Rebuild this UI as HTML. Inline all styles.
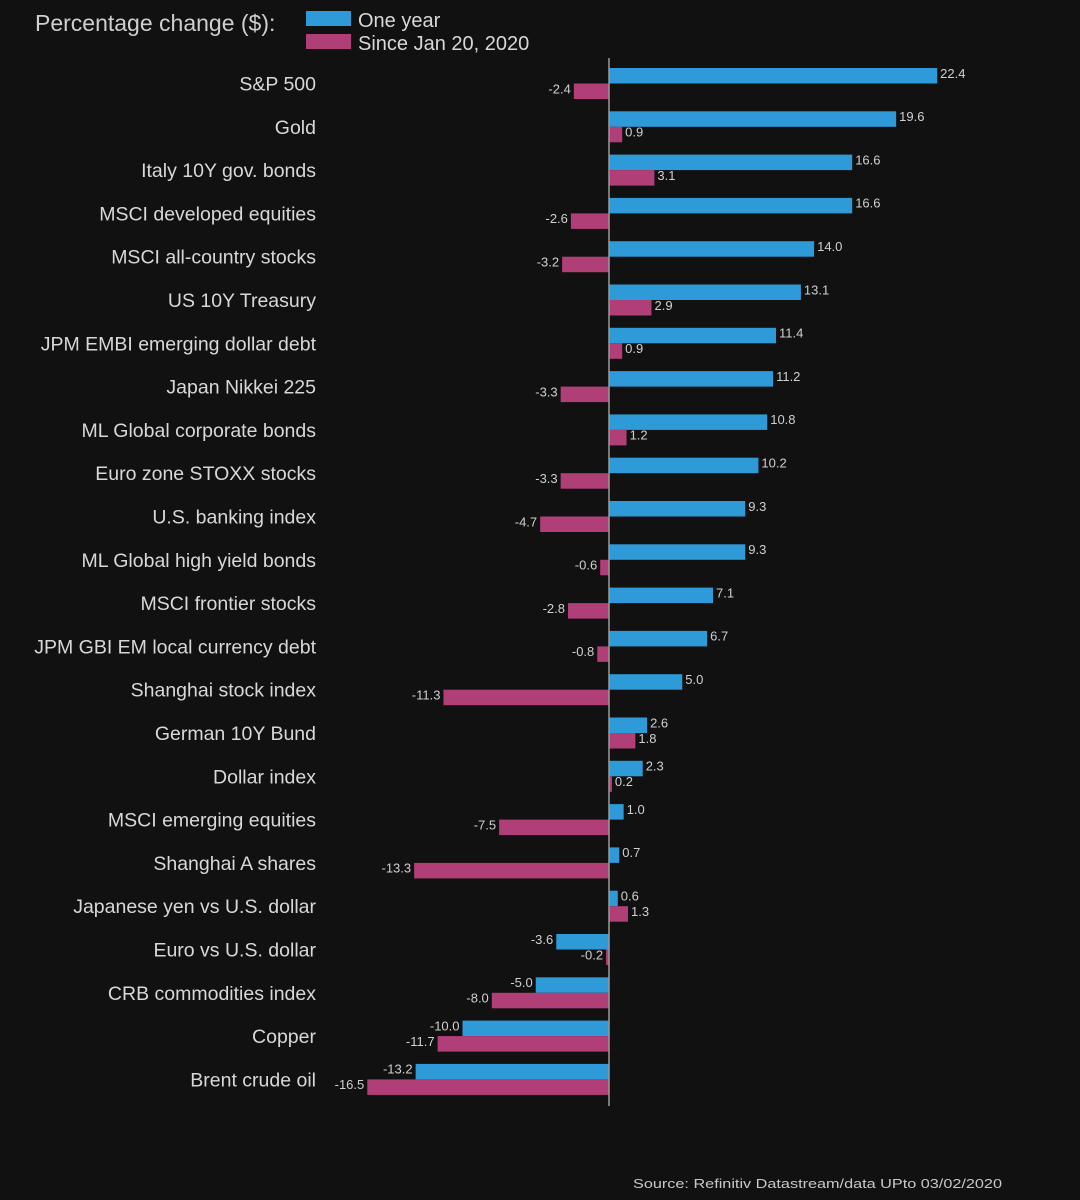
<!DOCTYPE html>
<html><head><meta charset="utf-8"><style>
html,body{margin:0;padding:0;background:#111111;}
svg{display:block;font-family:"Liberation Sans",sans-serif;}
</style></head><body>
<svg id="chart" width="1080" height="1200">
<rect width="1080" height="1200" fill="#111111"/>
<text x="35" y="31" font-size="23" fill="#cfcfcf">Percentage change ($):</text>
<rect x="306" y="11" width="45" height="15" fill="#2e9ad8"/>
<text x="358" y="27" font-size="20" fill="#d8d8d8">One year</text>
<rect x="306" y="34" width="45" height="15" fill="#b03f78"/>
<text x="358" y="50" font-size="20" fill="#d8d8d8">Since Jan 20, 2020</text>
<g id="bars"></g>
<line x1="609" y1="58" x2="609" y2="1106" stroke="#9a9a9a" stroke-width="1.5"/>
<text x="1002" y="1188" font-size="13" fill="#c8c8c8" text-anchor="end" textLength="369" lengthAdjust="spacingAndGlyphs">Source: Refinitiv Datastream/data UPto 03/02/2020</text>
</svg>
<script>
const categories=["S&P 500","Gold","Italy 10Y gov. bonds","MSCI developed equities","MSCI all-country stocks","US 10Y Treasury","JPM EMBI emerging dollar debt","Japan Nikkei 225","ML Global corporate bonds","Euro zone STOXX stocks","U.S. banking index","ML Global high yield bonds","MSCI frontier stocks","JPM GBI EM local currency debt","Shanghai stock index","German 10Y Bund","Dollar index","MSCI emerging equities","Shanghai A shares","Japanese yen vs U.S. dollar","Euro vs U.S. dollar","CRB commodities index","Copper","Brent crude oil"];
const oneYear=[22.4,19.6,16.6,16.6,14.0,13.1,11.4,11.2,10.8,10.2,9.3,9.3,7.1,6.7,5.0,2.6,2.3,1.0,0.7,0.6,-3.6,-5.0,-10.0,-13.2];
const sinceJan=[-2.4,0.9,3.1,-2.6,-3.2,2.9,0.9,-3.3,1.2,-3.3,-4.7,-0.6,-2.8,-0.8,-11.3,1.8,0.2,-7.5,-13.3,1.3,-0.2,-8.0,-11.7,-16.5];
const NS="http://www.w3.org/2000/svg";
const g=document.getElementById('bars');
const x0=609, k=14.65;
const xs=v=>x0+v*k;
const rowY=i=>68+i*43.3;
const barH=15.5;
function mk(tag,attrs){const e=document.createElementNS(NS,tag);for(const a in attrs)e.setAttribute(a,attrs[a]);g.appendChild(e);return e;}
function bar(v,y,color,name,label){
  const x=Math.min(xs(v),x0), w=Math.abs(xs(v)-x0);
  const r=mk('rect',{x:x,y:y,width:Math.max(w,1),height:barH,fill:color});
  
  
  const t=mk('text',{y:y+barH/2+2,'font-size':13,fill:'#d0d0d0'});
  t.textContent=v.toFixed(1);
  if(v>=0){t.setAttribute('x',xs(v)+3);}else{t.setAttribute('x',xs(v)-3);t.setAttribute('text-anchor','end');}
  
  
}
categories.forEach((c,i)=>{
  const y=rowY(i);
  const t=mk('text',{x:316,y:y+barH+7,'font-size':19.5,fill:'#d8d8d8','text-anchor':'end'});
  t.textContent=c;
  
  
  bar(oneYear[i],y,'#2e9ad8','bar-one-year','value-label-one-year');
  bar(sinceJan[i],y+barH,'#b03f78','bar-since-jan','value-label-since-jan');
});
</script>
</body></html>
